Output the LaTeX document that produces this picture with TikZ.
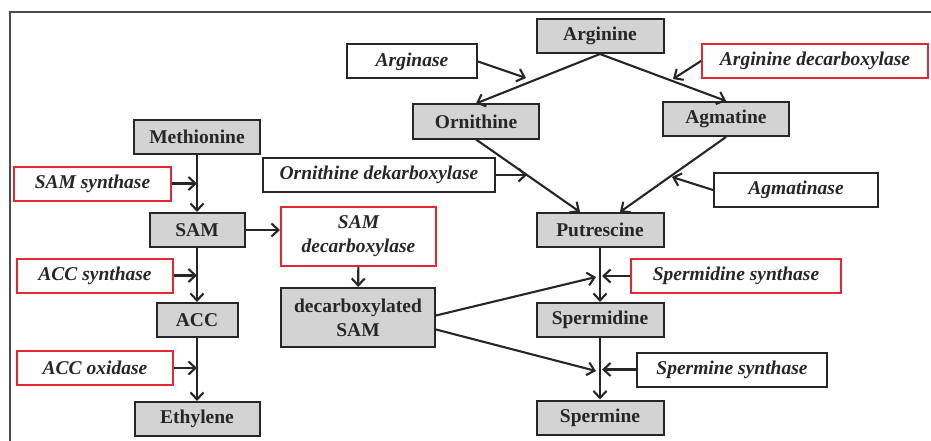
\documentclass[tikz,border=0pt]{standalone}
\usepackage{fontspec}
\setmainfont{Liberation Serif}
\usetikzlibrary{arrows.meta}

\definecolor{boxgray}{RGB}{211,211,211}
\definecolor{enzred}{RGB}{226,40,48}

\tikzset{
	product/.style={draw=black!85, fill=boxgray, line width=2pt, inner sep=0pt,
		minimum height=34pt, align=center,
		font=\fontsize{19.5}{24}\selectfont\bfseries},
	enzyme/.style={draw=black!85, fill=white, line width=2pt, inner sep=0pt,
		minimum height=34pt, align=center,
		font=\fontsize{19.5}{24}\selectfont\bfseries\itshape},
	redbox/.style={enzyme, draw=enzred},
}

\begin{document}
\begin{tikzpicture}[x=1pt, y=-1pt, ->, line width=2.1pt, black!85,
	>={Straight Barb[length=7pt,width=13pt]}]

	\useasboundingbox (0,0) rectangle (931,441);

	% frame
	\draw[-, line width=1.3pt, black!70] (10,441) -- (10,12) -- (931,12);

	% draw metabolites
	\node[product, minimum width=127pt] (arg) at (600,36) {Arginine};
	\node[product, minimum width=126pt] (orn) at (476,121.5) {Ornithine};
	\node[product, minimum width=126pt] (agm) at (726,119) {Agmatine};
	\node[product, minimum width=127pt] (put) at (600,230) {Putrescine};
	\node[product, minimum width=127pt] (spd) at (600,320) {Spermidine};
	\node[product, minimum width=127pt] (spm) at (600,417.5) {Spermine};
	\node[product, minimum width=126pt] (met) at (197,137) {Methionine};
	\node[product, minimum width=95pt] (sam) at (197,230) {SAM};
	\node[product, minimum width=81pt] (acc) at (197,320) {ACC};
	\node[product, minimum width=125pt] (eth) at (197,419) {Ethylene};
	\node[product, minimum width=154pt, minimum height=59pt] (dsam) at (358,317.5) {decarboxylated\\SAM};

	% draw enzymes
	\node[enzyme, minimum width=130pt] (arginase) at (412,61.5) {Arginase};
	\node[redbox, minimum width=226pt] (argdc) at (815,61) {Arginine decarboxylase};
	\node[enzyme, minimum width=232pt] (orndc) at (379,175) {Ornithine dekarboxylase};
	\node[enzyme, minimum width=164pt] (agmase) at (796,190) {Agmatinase};
	\node[redbox, minimum width=157pt] (samsyn) at (92.5,183.5) {SAM synthase};
	\node[redbox, minimum width=156pt] (accsyn) at (95,275.5) {ACC synthase};
	\node[redbox, minimum width=156pt] (accox) at (95,368) {ACC oxidase};
	\node[redbox, minimum width=155pt, minimum height=59pt] (samdc) at (358.5,236.5) {SAM\\decarboxylase};
	\node[redbox, minimum width=210pt] (spdsyn) at (736,276) {Spermidine synthase};
	\node[enzyme, minimum width=190pt] (spmsyn) at (732,369.5) {Spermine synthase};

	% draw main steps
	\foreach \a/\b in {met/sam, sam/acc, acc/eth, put/spd, spd/spm, samdc/dsam}
	{
		\path (\a) edge (\b);
	}
	\path (sam.east) edge (sam.east -| samdc.west);

	\path (arg.south) edge (orn.north);
	\path (arg.south) edge (agm.north);
	\path (orn.south) edge ([xshift=-20pt]put.north);
	\path (agm.south) edge ([xshift=20pt]put.north);

	\coordinate (spd_in) at (596,277);
	\coordinate (spm_in) at (596,371);
	\path ([yshift=2pt]dsam.east) edge (spd_in);
	\path ([yshift=-12pt]dsam.east) edge (spm_in);

	% draw enzyme arrows
	\coordinate (arginase_tip) at (526,78);
	\coordinate (argdc_tip) at (673,79);
	\coordinate (orndc_tip) at (527,175);
	\coordinate (agmase_tip) at (672,177);
	\path (arginase.east) edge (arginase_tip);
	\path (argdc.west) edge (argdc_tip);
	\path (orndc.east) edge (orndc_tip);
	\path (agmase.west) edge (agmase_tip);

	\foreach \e/\s in {samsyn/met, accsyn/sam, accox/acc}
	{
		\path (\e.east) edge (\e.east -| \s.south);
	}
	\path (spdsyn.west) edge ([xshift=2pt]spdsyn.west -| put.south);
	\path (spmsyn.west) edge ([xshift=2pt]spmsyn.west -| spd.south);

\end{tikzpicture}
\end{document}
